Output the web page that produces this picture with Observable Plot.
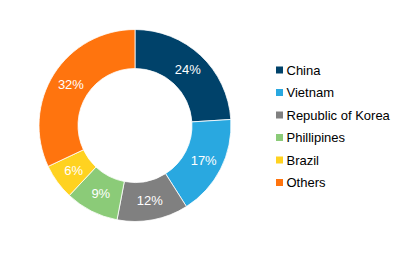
<!DOCTYPE html>
<html>
<head>
<meta charset="utf-8">
<script src="https://cdn.jsdelivr.net/npm/d3@7"></script>
<script src="https://cdn.jsdelivr.net/npm/@observablehq/plot@0.6"></script>
<style>
  html, body { margin: 0; padding: 0; background: #fff; }
</style>
</head>
<body>
<div id="chart"></div>
<script>
const categories = ["China", "Vietnam", "Republic of Korea", "Phillipines", "Brazil", "Others"];
const shares = [24, 17, 12, 9, 6, 32];
const colors = ["#00426A", "#29A8E0", "#808080", "#8BCB78", "#FFD220", "#FF740E"];

const data = categories.map((c, i) => ({category: c, value: shares[i], color: colors[i], i}));
const pie = d3.pie().sort(null).value(d => d.value)(data);

const cx = 135, cy = 125.5, rOuter = 96, rInner = 57;
const rMid = (rOuter + rInner) / 2;
const labels = pie.map(a => {
  const m = (a.startAngle + a.endAngle) / 2;
  return {x: cx + rMid * Math.sin(m), y: cy - rMid * Math.cos(m), text: a.data.value + "%"};
});
const legend = data.map(d => ({...d, ly: 70 + d.i * 22.5}));

function donut(index, scales) {
  const g = d3.create("svg:g");
  const ro = scales.x(rOuter) - scales.x(0);
  const ri = scales.x(rInner) - scales.x(0);
  const arc = d3.arc().innerRadius(ri).outerRadius(ro);
  g.attr("transform", `translate(${scales.x(cx)},${scales.y(cy)})`);
  g.selectAll("path").data(pie).join("path")
    .attr("d", arc)
    .attr("fill", d => d.data.color)
    .attr("stroke", "#fff")
    .attr("stroke-width", 0.8);
  return g.node();
}

const chart = Plot.plot({
  width: 406,
  height: 253,
  margin: 0,
  x: {domain: [0, 406], range: [0, 406], axis: null},
  y: {domain: [0, 253], range: [0, 253], axis: null},
  style: {fontFamily: "Arial, 'Liberation Sans', sans-serif", background: "#fff"},
  marks: [
    donut,
    Plot.text(labels, {x: "x", y: "y", text: "text", fill: "#fff", fontSize: 13}),
    Plot.rect(legend, {x1: () => 276, x2: () => 283, y1: d => d.ly - 3.5, y2: d => d.ly + 3.5, fill: "color"}),
    Plot.text(legend, {x: () => 286, y: "ly", text: "category", textAnchor: "start", fill: "#000", fontSize: 13})
  ],
  color: {type: "identity"}
});
document.getElementById("chart").appendChild(chart);
</script>
</body>
</html>
